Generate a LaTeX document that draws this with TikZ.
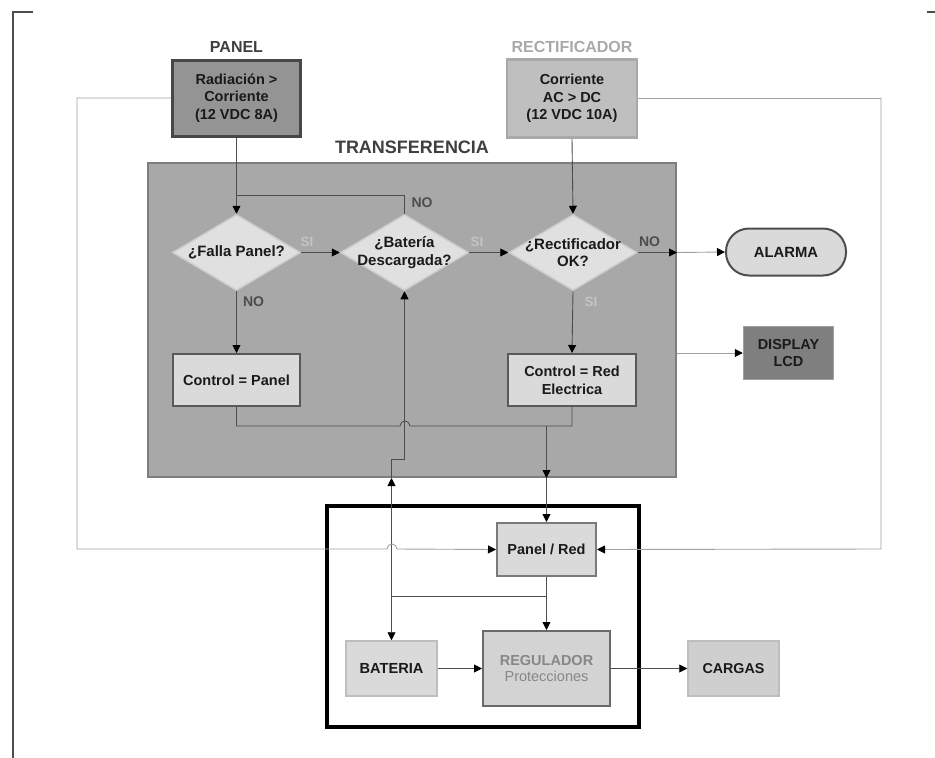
\documentclass[tikz,border=0pt]{standalone}
\usepackage{fontspec}
\setmainfont{Liberation Sans}
\usetikzlibrary{arrows.meta,shapes.geometric,positioning}
\definecolor{wiregray}{HTML}{4D4D4D}
\definecolor{outergray}{HTML}{A0A0A0}
\definecolor{panelfill}{HTML}{949494}
\definecolor{paneldraw}{HTML}{474747}
\definecolor{rectfill}{HTML}{BFBFBF}
\definecolor{rectdraw}{HTML}{A9A9A9}
\definecolor{transfill}{HTML}{A8A8A8}
\definecolor{transdraw}{HTML}{7E7E7E}
\definecolor{lightfill}{HTML}{DADADA}
\definecolor{diafill}{HTML}{E0E0E0}
\definecolor{diadraw}{HTML}{CDCDCD}
\definecolor{boxdraw}{HTML}{595959}
\definecolor{lcdfill}{HTML}{7F7F7F}
\definecolor{softdraw}{HTML}{BEBEBE}
\definecolor{titlegray}{HTML}{3F3F3F}
\definecolor{sigray}{HTML}{C4C4C4}
\definecolor{reggray}{HTML}{878787}
\definecolor{darktext}{HTML}{1A1A1A}

\begin{document}
\begin{tikzpicture}[x=1pt,y=-1pt,
      >={Triangle[length=8pt,width=8pt,color=black]},
      txt/.style={font=\fontsize{14.5}{17.7}\selectfont\bfseries,align=center,text=darktext},
      box/.style={txt,draw=boxdraw,fill=lightfill,line width=2pt,inner sep=0pt},
      dia/.style={diamond,draw=diadraw,fill=diafill,line width=1.5pt,inner sep=0pt,minimum width=128,minimum height=76},
      dtxt/.style={txt,font=\fontsize{15}{17.5}\selectfont\bfseries},
      soft/.style={box,draw=softdraw,line width=1.5pt,minimum width=91,minimum height=55,font=\fontsize{14.6}{18}\selectfont\bfseries},
      link/.style={draw=wiregray,line width=0.9pt},
      outer/.style={draw=outergray,line width=0.9pt},
      silbl/.style={font=\fontsize{13.5}{15}\selectfont\bfseries,text=sigray},
      nolbl/.style={font=\fontsize{14}{15}\selectfont\bfseries,text=wiregray},
      title/.style={font=\fontsize{16}{18}\selectfont\bfseries}]
    \useasboundingbox (0,0) rectangle (935,758);
    \draw[wiregray,line width=1.3pt] (13,758) -- (13,12) -- (33,12);
    \draw[wiregray,line width=1.3pt] (927,12) -- (935,12);

    \node[title,text=titlegray] (panellbl) at (236.5,47) {PANEL};
    \node[box,draw=paneldraw,fill=panelfill,line width=3pt,minimum width=128,minimum height=76] (panel) at (236.5,98)
      {Radiación >\\ Corriente\\ (12 VDC 8A)};
    \node[title,text=rectdraw] (rectlbl) at (572,47) {RECTIFICADOR};
    \node[box,draw=rectdraw,fill=rectfill,line width=2.5pt,minimum width=130,minimum height=78] (rect) at (572,98.5)
      {Corriente\\ AC > DC\\ (12 VDC 10A)};

    \node[title,font=\fontsize{18}{20}\selectfont\bfseries,text=titlegray] (translbl) at (412,147) {TRANSFERENCIA};
    \node[draw=transdraw,fill=transfill,line width=2pt,minimum width=528,minimum height=314] (trans) at (412,320) {};

    \node[dia,label={[dtxt]center:¿Falla Panel?}] (falla) at (236.5,252.5) {};
    \node[dia,label={[dtxt]center:{¿Batería\\ Descargada?}}] (batd) at (404.5,252.5) {};
    \node[dia,label={[dtxt]center:{¿Rectificador\\ OK?}}] (rectd) at (573,252.5) {};
    \node[box,minimum width=127,minimum height=52] (ctrlp) at (236.5,380) {Control = Panel};
    \node[box,minimum width=128,minimum height=52] (ctrlr) at (572,380) {Control = Red\\ Electrica};

    \node[box,font=\fontsize{14.8}{17}\selectfont\bfseries,draw=wiregray,fill=lightfill,rounded corners=23pt,minimum width=120,minimum height=47] (alarma) at (786,252) {ALARMA};
    \node[box,font=\fontsize{14.5}{16.7}\selectfont\bfseries,draw=outergray,fill=lcdfill,line width=1.5pt,minimum width=90,minimum height=53] (lcd) at (788.5,353) {DISPLAY\\ LCD};

    \draw[black,line width=3.5pt] (327,506) rectangle (639,727);
    \node[box,font=\fontsize{14.5}{17}\selectfont\bfseries,draw=boxdraw!80,minimum width=99,minimum height=53] (pr) at (546.5,549.5) {Panel / Red};
    \node[soft] (bat) at (391.5,668.5) {BATERIA};
    \node[box,font=\fontsize{14.5}{16}\selectfont\bfseries,text=reggray,draw=boxdraw!90,fill=lightfill!97!black,minimum width=127,minimum height=75] (reg) at (546.5,668.5)
      {REGULADOR\\ {\mdseries Protecciones}};
    \node[soft,fill=lightfill!95!black,font=\fontsize{14.3}{18}\selectfont\bfseries] (cargas) at (733.5,668.5) {CARGAS};

    \coordinate (loop) at (236.5,195);
    \coordinate (join) at (546.5,426);
    \coordinate (split) at (546.5,596);
    \draw[link,->] (panel.south) -- (falla.north);
    \draw[link] (batd.north) |- (loop);
    \draw[link,->] (falla.east) -- (batd.west);
    \draw[link,->] (batd.east) -- (rectd.west);
    \draw[link,->] (rect.south) -- (rectd.north);
    \draw[link,->] (rectd.east) -- (rectd.east -| trans.east);
    \draw[outer,->] (rectd.east -| trans.east) -- (alarma.west);
    \draw[outer,->] (trans.east |- lcd.west) -- (lcd.west);
    \draw[link,->] (falla.south) -- (ctrlp.north);
    \draw[link,->] (rectd.south) -- (ctrlr.north);
    \draw[link] (ctrlp.south) |- (400,426) arc (180:360:5) -- (join) -| (ctrlr.south);
    \draw[link,->] (join) -- (join |- trans.south);
    \draw[link,->] (join |- trans.south) -- (pr.north);
    \draw[link,<->] (bat.north) -- (bat.north |- trans.south);
    \draw[link,->] (bat.north |- trans.south) -- ++(0,-19) -| (batd.south);
    \draw[link,->] (pr.south) -- (reg.north);
    \draw[link] (split) -- (split -| bat.north);
    \draw[link,->] (bat.east) -- (reg.west);
    \draw[link,->] (reg.east) -- (cargas.west);
    \draw[outer,->] (panel.west) -| (77,549) -- (387,549) arc (180:360:5) -- (pr.west);
    \draw[outer,->] (rect.east) -| (881,549) -- (pr.east);

    \node[silbl] (si1) at (307,242) {SI};
    \node[silbl] (si2) at (477,242) {SI};
    \node[silbl] (si3) at (591,302) {SI};
    \node[nolbl] (no1) at (422,203) {NO};
    \node[nolbl] (no2) at (253.5,302) {NO};
    \node[nolbl] (no3) at (649.5,242) {NO};
  \end{tikzpicture}
\end{document}
